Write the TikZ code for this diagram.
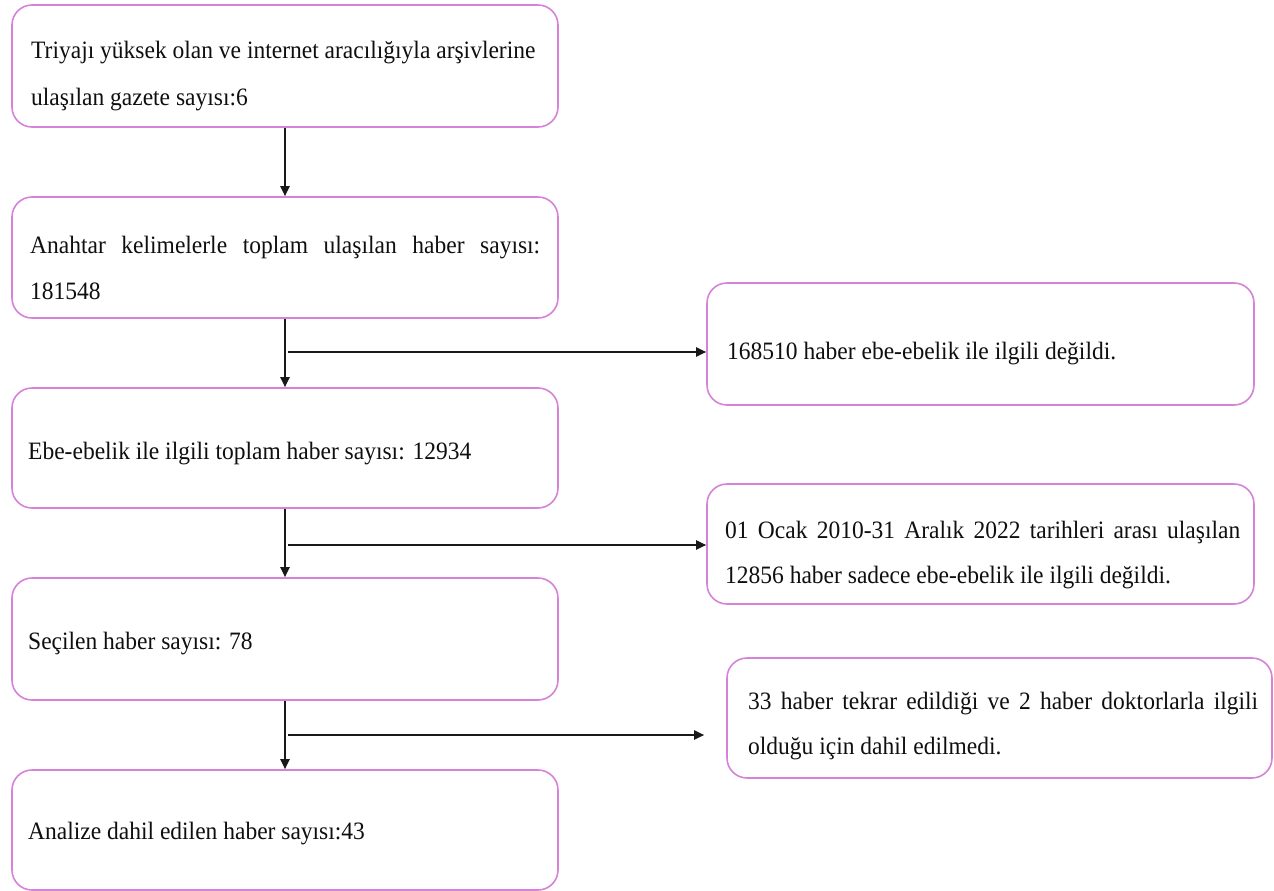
\documentclass[tikz,border=0pt]{standalone}
\usepackage{fontspec}
\setmainfont{Liberation Serif}
\newfontfamily\bxfont{Liberation Serif}[FakeStretch=0.94]
\usetikzlibrary{arrows.meta}
\definecolor{boxpink}{RGB}{214,130,216}
\definecolor{txt}{RGB}{15,15,15}
\tikzset{
  flowbox/.style={draw=boxpink, line width=1.6pt, rounded corners=20pt, inner sep=0pt},
  ln/.style={anchor=base west, inner sep=0pt, text=txt, font=\bxfont\fontsize{25}{30}\selectfont},
  arr/.style={draw=black!90, line width=2pt, -{Triangle[length=10pt,width=9pt]}}
}
\begin{document}
\begin{tikzpicture}[x=1pt,y=-1pt]
\useasboundingbox (0,0) rectangle (1274,891);
% left column
\node[flowbox, minimum width=546pt, minimum height=122pt] (b1) at (285,66) {};
\node[flowbox, minimum width=546pt, minimum height=121pt] (b2) at (285,257.5) {};
\node[flowbox, minimum width=546pt, minimum height=120pt] (b3) at (285,448) {};
\node[flowbox, minimum width=546pt, minimum height=122pt] (b4) at (285,639) {};
\node[flowbox, minimum width=546pt, minimum height=120pt] (b5) at (285,830) {};
% right column
\node[flowbox, minimum width=547pt, minimum height=122pt] (ra) at (980.5,344) {};
\node[flowbox, minimum width=547pt, minimum height=120pt] (rb) at (980.5,544) {};
\node[flowbox, minimum width=545pt, minimum height=120pt] (rc) at (999.5,718) {};
% texts
\node[ln] (t1a) at (31,59) {Triyajı yüksek olan ve internet aracılığıyla arşivlerine};
\node[ln] (t1b) at (31,105) {ulaşılan gazete sayısı:6};
\node[ln] (t2a) at (30,253) {\makebox[510pt][s]{Anahtar kelimelerle toplam ulaşılan haber sayısı:}};
\node[ln] (t2b) at (30,299) {181548};
\node[ln] (t3) at (28,459) {Ebe-ebelik ile ilgili toplam haber sayısı: 12934};
\node[ln] (t4) at (28,649) {Seçilen haber sayısı: 78};
\node[ln] (t5) at (28,839) {Analize dahil edilen haber sayısı:43};
\node[ln] (tra) at (727,359) {168510 haber ebe-ebelik ile ilgili değildi.};
\node[ln] (trb1) at (725,538) {\makebox[515pt][s]{01 Ocak 2010-31 Aralık 2022 tarihleri arası ulaşılan}};
\node[ln] (trb2) at (725,583) {12856 haber sadece ebe-ebelik ile ilgili değildi.};
\node[ln] (trc1) at (748,709) {\makebox[510pt][s]{33 haber tekrar edildiği ve 2 haber doktorlarla ilgili}};
\node[ln] (trc2) at (748,754) {olduğu için dahil edilmedi.};
% vertical arrows
\draw[arr] (b1.south) -- (b2.north);
\draw[arr] (b2.south) -- (b3.north);
\draw[arr] (b3.south) -- (b4.north);
\draw[arr] (b4.south) -- (b5.north);
% side arrows
\coordinate (s1) at (288,352);
\coordinate (s2) at (288,545);
\coordinate (s3) at (288,735);
\draw[arr] (s1) -- (s1 -| ra.west);
\draw[arr] (s2) -- (s2 -| rb.west);
\draw[arr, shorten >=22pt] (s3) -- (s3 -| rc.west);
\end{tikzpicture}
\end{document}
